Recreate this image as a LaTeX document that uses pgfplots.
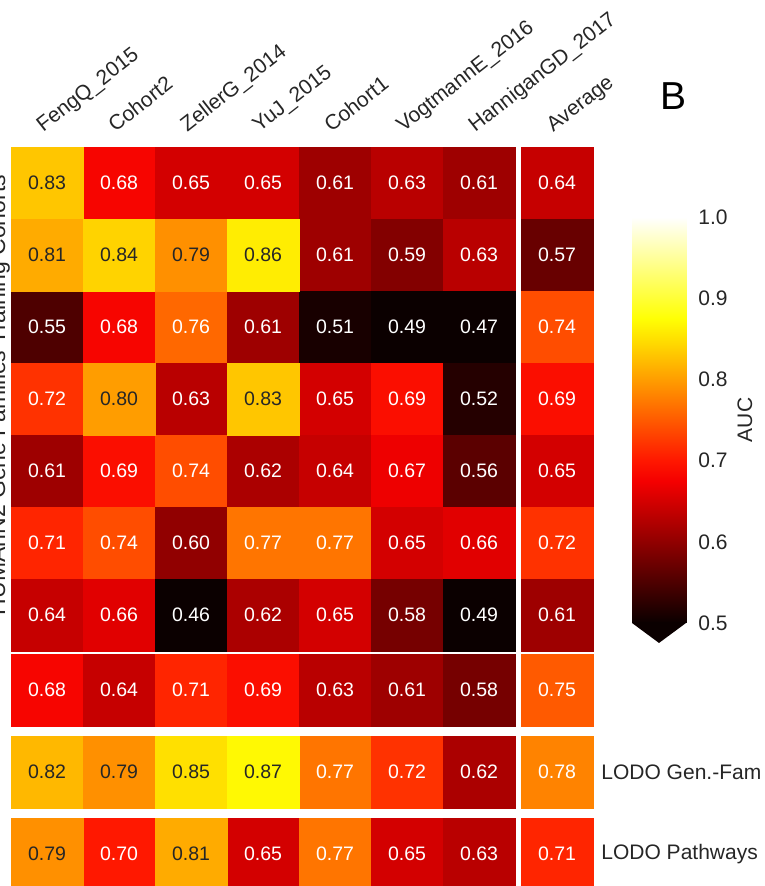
\documentclass[border=0pt]{standalone}
\usepackage{fontspec}
\setmainfont{Liberation Sans}
\usepackage{pgfplots}
\usepackage{pgfplotstable}
\pgfplotsset{compat=1.18}
\definecolor{labelgray}{HTML}{262626}
\definecolor{hotmin}{rgb}{0.0416,0,0}
\newcommand{\lblfont}{\fontsize{10.5}{12}\selectfont}
\newcommand{\cellfont}{\fontsize{9.75}{11}\selectfont}

% matplotlib "hot" colour map, sampled at 21 equidistant points
\pgfplotsset{
  colormap={hotmpl}{
    rgb=(0.042,0,0) rgb=(0.173,0,0) rgb=(0.304,0,0) rgb=(0.435,0,0)
    rgb=(0.567,0,0) rgb=(0.698,0,0) rgb=(0.829,0,0) rgb=(0.961,0,0)
    rgb=(1,0.092,0) rgb=(1,0.223,0) rgb=(1,0.354,0) rgb=(1,0.486,0)
    rgb=(1,0.617,0) rgb=(1,0.748,0) rgb=(1,0.879,0) rgb=(1,1,0.016)
    rgb=(1,1,0.213) rgb=(1,1,0.409) rgb=(1,1,0.606) rgb=(1,1,0.803)
    rgb=(1,1,1)
  },
}

% x = cell centre (px), y = -(cell centre from top, px), v = AUC
% training cohorts block, cells with light text
\pgfplotstableread{
x y v
119 -183 0.68
191 -183 0.65
263 -183 0.65
335 -183 0.61
407 -183 0.63
479 -183 0.61
335 -255 0.61
407 -255 0.59
479 -255 0.63
47 -327 0.55
119 -327 0.68
191 -327 0.76
263 -327 0.61
335 -327 0.51
407 -327 0.49
479 -327 0.47
47 -399 0.72
191 -399 0.63
335 -399 0.65
407 -399 0.69
479 -399 0.52
47 -471 0.61
119 -471 0.69
191 -471 0.74
263 -471 0.62
335 -471 0.64
407 -471 0.67
479 -471 0.56
47 -543 0.71
119 -543 0.74
191 -543 0.60
263 -543 0.77
335 -543 0.77
407 -543 0.65
479 -543 0.66
47 -615 0.64
119 -615 0.66
191 -615 0.46
263 -615 0.62
335 -615 0.65
407 -615 0.58
479 -615 0.49
}\cohortlight
% training cohorts block, cells with dark text
\pgfplotstableread{
x y v
47 -183 0.83
47 -255 0.81
119 -255 0.84
191 -255 0.79
263 -255 0.86
119 -399 0.80
263 -399 0.83
}\cohortdark
% average column
\pgfplotstableread{
x y v
557 -183 0.64
557 -255 0.57
557 -327 0.74
557 -399 0.69
557 -471 0.65
557 -543 0.72
557 -615 0.61
}\avgdata
% row 8
\pgfplotstableread{
x y v
47 -690 0.68
119 -690 0.64
191 -690 0.71
263 -690 0.69
335 -690 0.63
407 -690 0.61
479 -690 0.58
557 -690 0.75
}\mixdata
% LODO Gen.-Fam
\pgfplotstableread{
x y v
335 -772 0.77
407 -772 0.72
479 -772 0.62
557 -772 0.78
}\lodogflight
\pgfplotstableread{
x y v
47 -772 0.82
119 -772 0.79
191 -772 0.85
263 -772 0.87
}\lodogfdark
% LODO Pathways
\pgfplotstableread{
x y v
119 -854 0.70
263 -854 0.65
335 -854 0.77
407 -854 0.65
479 -854 0.63
557 -854 0.71
}\lodopwlight
\pgfplotstableread{
x y v
47 -854 0.79
191 -854 0.81
}\lodopwdark

\pgfplotsset{
  cellsq/.style={
    scatter, only marks, mark=square*, mark size=18pt,
    point meta=\thisrow{v},
    scatter/use mapped color={draw=mapped color, fill=mapped color},
  },
  celltxt/.style={
    only marks, mark=none,
    point meta=explicit,
    nodes near coords={\pgfmathprintnumber[fixed,fixed zerofill,precision=2,assume math mode=true]{\pgfplotspointmeta}},
    every node near coord/.append style={anchor=center, inner sep=0pt, font=\cellfont, text=#1},
  },
}

\begin{document}
\begin{tikzpicture}
\begin{axis}[
  name=main,
  x=0.5pt, y=0.5pt,
  xmin=11, xmax=593, ymin=-890, ymax=-147,
  clip=false,
  axis line style={draw=none},
  major tick length=0pt,
  xtick={47,119,191,263,335,407,479,557},
  xticklabels={FengQ\_2015, Cohort2, ZellerG\_2014, YuJ\_2015, Cohort1, VogtmannE\_2016, HanniganGD\_2017, Average},
  xticklabel pos=upper,
  xticklabel style={xshift=-2pt, yshift=7pt, rotate=38, anchor=base west, inner sep=0pt, font=\lblfont, text=labelgray},
  ytick={-772,-854},
  yticklabels={LODO Gen.-Fam, LODO Pathways},
  yticklabel pos=right,
  yticklabel style={anchor=west, inner sep=0pt, xshift=4pt, font=\lblfont, text=labelgray},
  colormap name=hotmpl,
  point meta min=0.5, point meta max=1,
]
% coloured cells
\addplot[cellsq] table[x=x, y=y] {\cohortlight};
\addplot[cellsq] table[x=x, y=y] {\cohortdark};
\addplot[cellsq] table[x=x, y=y] {\avgdata};
\addplot[cellsq] table[x=x, y=y] {\mixdata};
\addplot[cellsq] table[x=x, y=y] {\lodogflight};
\addplot[cellsq] table[x=x, y=y] {\lodogfdark};
\addplot[cellsq] table[x=x, y=y] {\lodopwlight};
\addplot[cellsq] table[x=x, y=y] {\lodopwdark};
% cell annotations
\addplot[celltxt=white] table[x=x, y=y, meta=v] {\cohortlight};
\addplot[celltxt=labelgray] table[x=x, y=y, meta=v] {\cohortdark};
\addplot[celltxt=white] table[x=x, y=y, meta=v] {\avgdata};
\addplot[celltxt=white] table[x=x, y=y, meta=v] {\mixdata};
\addplot[celltxt=white] table[x=x, y=y, meta=v] {\lodogflight};
\addplot[celltxt=labelgray] table[x=x, y=y, meta=v] {\lodogfdark};
\addplot[celltxt=white] table[x=x, y=y, meta=v] {\lodopwlight};
\addplot[celltxt=labelgray] table[x=x, y=y, meta=v] {\lodopwdark};
\node[rotate=90, anchor=base, font=\fontsize{11.5}{13}\selectfont, text=labelgray] at (axis cs:5,-395) {HUMAnN2 Gene Families Training Cohorts};
\node[font=\fontsize{19.5}{22}\selectfont, text=black] at (axis cs:673.5,-96) {B};
\coordinate (bbnw) at (axis cs:0,0);
\coordinate (bbse) at (axis cs:764,-886);
\end{axis}
% colour bar
\begin{axis}[
  at={(main.north east)}, anchor=north west,
  xshift=19.5pt, yshift=-35pt,
  scale only axis, width=27pt, height=203pt,
  xmin=0, xmax=1, ymin=0.5, ymax=1,
  clip=false,
  axis line style={draw=none}, major tick length=0pt,
  xtick=\empty,
  ytick={0.5,0.6,0.7,0.8,0.9,1.0},
  yticklabels={0.5,0.6,0.7,0.8,0.9,1.0},
  yticklabel pos=right,
  yticklabel style={anchor=west, inner sep=0pt, xshift=6pt, font=\lblfont, text=labelgray},
  colormap name=hotmpl,
  point meta min=0.5, point meta max=1,
]
\addplot[surf, shader=interp, point meta=y, mesh/cols=2] table {
x y
0 0.5
1 0.5
0 1
1 1
};
\fill[hotmin] (axis cs:0,0.5) -- (axis cs:1,0.5) -- (axis cs:0.5,0.4754) -- cycle;
\node[rotate=90, anchor=center, font=\lblfont, text=labelgray] at (axis cs:2.09,0.75) {AUC};
\end{axis}
\pgfresetboundingbox
\path[use as bounding box] (bbnw) rectangle (bbse);
\end{tikzpicture}
\end{document}
